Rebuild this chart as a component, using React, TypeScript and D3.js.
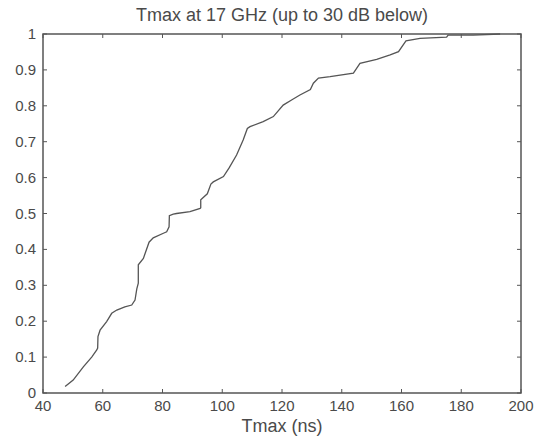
import React from "react";
import * as d3 from "d3";

const tmaxNs = [47.4, 50.1, 53.5, 56.3, 58.0, 58.3, 58.4, 59.1, 61.3, 63.0, 64.7, 67.4, 69.7, 70.8, 71.4, 71.9, 71.9, 73.6, 75.5, 76.9, 80.3, 81.4, 82.2, 82.3, 83.6, 84.7, 89.2, 92.6, 92.8, 92.8, 95.0, 96.2, 97.0, 100.4, 102.3, 104.8, 107.0, 108.4, 109.3, 113.7, 117.1, 120.4, 123.2, 126.0, 129.5, 130.5, 132.2, 136.1, 143.9, 146.1, 151.7, 156.2, 159.0, 161.5, 166.2, 175.1, 175.6, 184.0, 193.0];
const cdf = [0.018, 0.036, 0.073, 0.1, 0.12, 0.125, 0.157, 0.175, 0.199, 0.222, 0.231, 0.24, 0.245, 0.259, 0.29, 0.306, 0.357, 0.375, 0.42, 0.432, 0.445, 0.449, 0.463, 0.494, 0.498, 0.5, 0.505, 0.514, 0.516, 0.538, 0.555, 0.582, 0.588, 0.603, 0.627, 0.663, 0.705, 0.737, 0.742, 0.756, 0.77, 0.802, 0.816, 0.83, 0.845, 0.863, 0.877, 0.881, 0.891, 0.918, 0.929, 0.942, 0.951, 0.981, 0.988, 0.991, 0.997, 0.997, 1.0];

const xTicks = [40, 60, 80, 100, 120, 140, 160, 180, 200];
const yTicks = [0, 0.1, 0.2, 0.3, 0.4, 0.5, 0.6, 0.7, 0.8, 0.9, 1];

const title = "Tmax at 17 GHz (up to 30 dB below)";
const xLabel = "Tmax (ns)";

export default function App() {
  const W = 541, H = 438;
  const left = 43, right = 521, top = 34, bottom = 393;
  const x = d3.scaleLinear().domain([40, 200]).range([left, right]);
  const y = d3.scaleLinear().domain([0, 1]).range([bottom, top]);
  const pts: [number, number][] = tmaxNs.map((t, i) => [t, cdf[i]]);
  const line = d3.line<[number, number]>().x(d => x(d[0])).y(d => y(d[1]));
  const font = "'Liberation Sans', Arial, sans-serif";
  const textCol = "#4a4a4a";
  const tl = 4;
  return (
    <svg width={W} height={H} style={{ position: "absolute", left: 0, top: 0, background: "#fff" }}>
      <rect x={0} y={0} width={W} height={H} fill="#fff" />
      <text x={(left + right) / 2} y={21} textAnchor="middle" fontFamily={font} fontSize={18} fill={textCol}>{title}</text>
      {xTicks.map(t => (
        <g key={"x" + t}>
          <line x1={x(t)} x2={x(t)} y1={bottom} y2={bottom - tl} stroke="#555" strokeWidth={1} />
          <line x1={x(t)} x2={x(t)} y1={top} y2={top + tl} stroke="#555" strokeWidth={1} />
          <text x={x(t)} y={bottom + 18} textAnchor="middle" fontFamily={font} fontSize={15} fill={textCol}>{t}</text>
        </g>
      ))}
      {yTicks.map(t => (
        <g key={"y" + t}>
          <line x1={left} x2={left + tl} y1={y(t)} y2={y(t)} stroke="#555" strokeWidth={1} />
          <line x1={right} x2={right - tl} y1={y(t)} y2={y(t)} stroke="#555" strokeWidth={1} />
          <text x={left - 7} y={y(t) + 5} textAnchor="end" fontFamily={font} fontSize={15} fill={textCol}>{t}</text>
        </g>
      ))}
      <path d={line(pts) || ""} fill="none" stroke="#555" strokeWidth={1.3} />
      <rect x={left} y={top} width={right - left} height={bottom - top} fill="none" stroke="#555" strokeWidth={1.5} />
      <text x={(left + right) / 2} y={432} textAnchor="middle" fontFamily={font} fontSize={18} fill={textCol}>{xLabel}</text>
    </svg>
  );
}
